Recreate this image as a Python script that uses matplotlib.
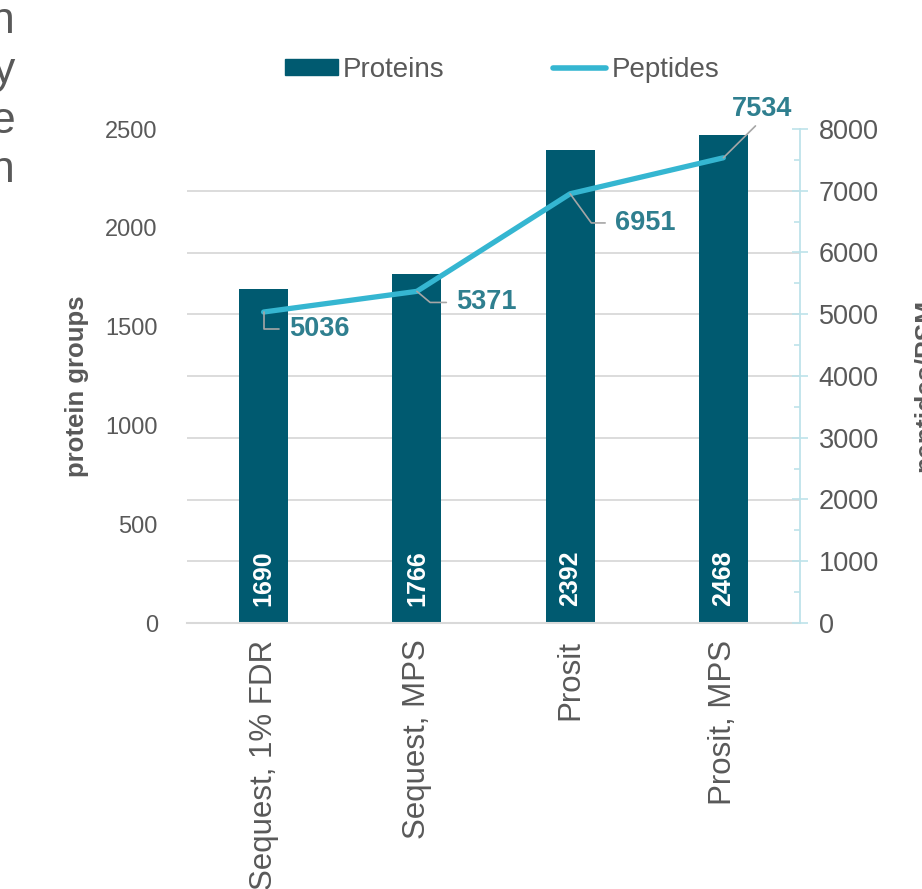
import numpy as np
import matplotlib.pyplot as plt
from matplotlib.patches import Patch
from matplotlib.lines import Line2D

plt.rcParams['font.family'] = ['Liberation Sans', 'DejaVu Sans']

categories = ['Sequest, 1% FDR', 'Sequest, MPS', 'Prosit', 'Prosit, MPS']
proteins = [1690, 1766, 2392, 2468]
peptides = [5036, 5371, 6951, 7534]

bar_color = '#005A70'
line_color = '#35B6D1'
label_color = '#2F7F8F'
text_gray = '#595959'
grid_gray = '#D9D9D9'

fig = plt.figure(figsize=(9.22, 8.89), dpi=100)
W, H = 922, 889
ax = fig.add_axes([187 / W, 1 - 623 / H, (800 - 187) / W, (623 - 129) / H])
ax2 = ax.twinx()

x = np.arange(len(categories))
ax.bar(x, proteins, width=0.32, color=bar_color, zorder=2)
ax.set_xlim(-0.5, len(categories) - 0.5)
ax.set_ylim(0, 2500)
ax.set_yticks(np.arange(0, 2501, 500))
ax.set_yticks(np.arange(0, 2501, 2500 / 8), minor=True)
ax.grid(which='minor', axis='y', color=grid_gray, lw=1.3, zorder=0)
ax.set_axisbelow(True)
ax.tick_params(axis='y', which='both', length=0, pad=21, labelsize=17, labelcolor=text_gray)
ax.set_xticks(x)
ax.set_xticklabels(categories, rotation=90, ha='center', va='top')
ax.tick_params(axis='x', length=0, pad=12, labelsize=22.5, labelcolor=text_gray)
for s in ['top', 'left', 'right']:
    ax.spines[s].set_visible(False)
ax.spines['bottom'].set_color(grid_gray)
ax.spines['bottom'].set_linewidth(1.5)
ax.set_ylabel('protein groups', fontsize=18.5, fontweight='bold', color=text_gray)
ax.yaxis.set_label_coords(-0.16, 0.48)

for xi, v in zip(x, proteins):
    ax.text(xi, 228, str(v), rotation=90, ha='center', va='center', color='white',
            fontsize=18, fontweight='bold', zorder=3)

ax2.plot(x, peptides, color=line_color, lw=3.8, solid_capstyle='round',
         solid_joinstyle='round', zorder=4)
ax2.set_ylim(0, 8000)
ax2.set_yticks(np.arange(0, 8001, 1000))
ax2.set_yticks(np.arange(0, 8001, 500), minor=True)
ax2.tick_params(axis='y', which='major', direction='inout', length=11, width=1.2,
                color='#BEE3EA', pad=8, labelsize=19.5, labelcolor=text_gray)
ax2.tick_params(axis='y', which='minor', direction='in', length=4, width=1.2, color='#BEE3EA')
for s in ['top', 'left', 'bottom']:
    ax2.spines[s].set_visible(False)
ax2.spines['right'].set_color('#BEE3EA')
ax2.spines['right'].set_linewidth(1.3)

# data labels for the peptide line (offsets in points)
label_offsets = [(40, -12), (50, -8), (54, -21), (28, 35)]
angle_b = [90, -40, -54, None]
for xi, v, off, ab in zip(x, peptides, label_offsets, angle_b):
    if ab is None:
        arrow = dict(arrowstyle='-', color='#A6A6A6', lw=1.2, shrinkA=1, shrinkB=0,
                     relpos=(0.45, 0), connectionstyle='arc3')
    else:
        arrow = dict(arrowstyle='-', color='#A6A6A6', lw=1.2, shrinkA=5, shrinkB=0,
                     relpos=(0, 0.5), connectionstyle=f'angle,angleA=0,angleB={ab},rad=0')
    ax2.annotate(str(v), xy=(xi, v), xytext=off, textcoords='offset points',
                 ha='center', va='center', fontsize=19.5, fontweight='bold',
                 color=label_color, arrowprops=arrow, zorder=5)

# right axis title, partly outside the canvas
fig.text(913 / W, 1 - 385 / H, 'peptides/PSM', rotation=90, ha='left', va='center',
         fontsize=19, fontweight='bold', color=text_gray)

# fragments of neighbouring text cut off at the left edge
for ch, yb in zip(['n', 'y', 'e', 'n'], [33, 83, 133, 182]):
    fig.text(15 / W, 1 - yb / H, ch, ha='right', va='baseline', fontsize=32, color=text_gray)

handles = [Patch(color=bar_color), Line2D([0], [0], color=line_color, lw=4, solid_capstyle='round')]
fig.legend(handles, ['Proteins', 'Peptides'], loc='center', bbox_to_anchor=(502 / W, 1 - 70 / H),
           ncol=2, frameon=False, fontsize=20, labelcolor=text_gray, handlelength=1.9,
           handleheight=0.5, handletextpad=0.2, columnspacing=3.9, borderpad=0)

fig.savefig('out.png', dpi=100)
